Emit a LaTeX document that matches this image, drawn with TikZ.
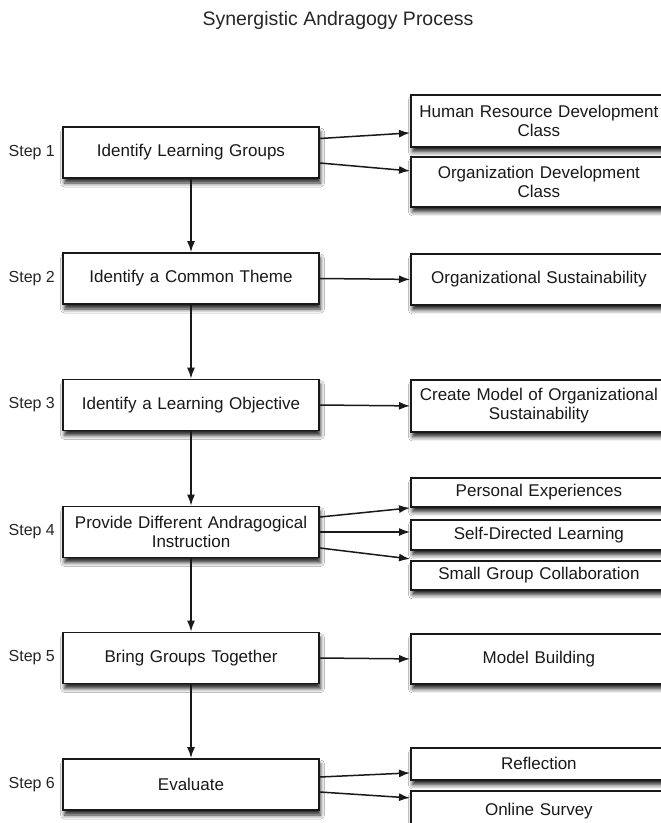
\documentclass[tikz,border=0pt]{standalone}
\usepackage{fontspec}
\setmainfont{Liberation Sans}
\usetikzlibrary{positioning, calc, arrows.meta, shadows.blur}
\tikzset{
  boxshadow/.style={blur shadow={shadow xshift=1.5pt, shadow yshift=-5pt, shadow blur radius=4pt, shadow opacity=85}},
  stepbox/.style={draw=black!90, line width=1.8pt, fill=white, boxshadow, minimum width=256pt, minimum height=51pt,
    inner sep=0pt, text width=248pt, align=center, font=\fontsize{17}{19}\selectfont, text=black!90},
  outbox/.style={stepbox, anchor=north west},
  steplabel/.style={anchor=east, inner sep=0pt, font=\fontsize{16}{18}\selectfont, text=black!85},
  flow/.style={line width=1.5pt, draw=black!90, -{Latex[length=11pt,width=8pt]}}
}
\begin{document}
\begin{tikzpicture}[x=1pt, y=-1pt]
    \useasboundingbox[fill=white] (0,0) rectangle (661,823);

    % --- Title ---
    \node[font=\fontsize{19.5}{22}\selectfont, text=black!85] (title) at (338,20) {Synergistic Andragogy Process};

    % --- Left column: the six steps ---
    \node[stepbox] (s1) at (191,152.5) {Identify Learning Groups};
    \node[stepbox] (s2) at (191,278.5) {Identify a Common Theme};
    \node[stepbox] (s3) at (191,405) {Identify a Learning Objective};
    \node[stepbox] (s4) at (191,532) {Provide Different Andragogical\\Instruction};
    \node[stepbox] (s5) at (191,658) {Bring Groups Together};
    \node[stepbox] (s6) at (191,784.5) {Evaluate};

    % step numbers, right aligned next to each box
    \foreach \i in {1,...,6}
      \node[steplabel] (l\i) at ($(s\i.west)+(-7,0)$) {Step \i};

    % --- Right column: outcomes of each step ---
    \node[outbox, minimum height=52pt] (hrd) at (410,94) {Human Resource Development\\Class};
    \node[outbox, minimum height=50pt] (odc) at (410,156) {Organization Development\\Class};
    \node[outbox] (sust) at (410,253) {Organizational Sustainability};
    \node[outbox, minimum height=52pt] (model) at (410,379) {Create Model of Organizational\\Sustainability};
    \node[outbox, minimum height=29pt] (pers) at (410,477) {Personal Experiences};
    \node[outbox, minimum height=30pt] (self) at (410,519) {Self-Directed Learning};
    \node[outbox, minimum height=29pt] (small) at (410,560) {Small Group Collaboration};
    \node[outbox, minimum height=50pt] (build) at (410,633) {Model Building};
    \node[outbox, minimum height=32pt] (refl) at (410,747) {Reflection};
    \node[outbox, minimum height=40pt] (surv) at (410,790) {Online Survey};

    % --- Vertical flow between steps ---
    \draw[flow] (s1.south) -- (s2.north);
    \draw[flow] (s2.south) -- (s3.north);
    \draw[flow] (s3.south) -- (s4.north);
    \draw[flow] (s4.south) -- (s5.north);
    \draw[flow] (s5.south) -- (s6.north);

    % --- Step to outcome arrows ---
    \draw[flow] ([yshift=14pt]s1.east) -- ([yshift=-12pt]hrd.west);
    \draw[flow] ([yshift=-10.5pt]s1.east) -- ([yshift=11pt]odc.west);
    \draw[flow] (s2.east) -- (sust.west);
    \draw[flow] (s3.east) -- (model.west);
    \draw[flow] ([yshift=15pt]s4.east) -- ([yshift=-15.5pt]pers.west);
    \draw[flow] (s4.east) -- (s4.east -| self.west);
    \draw[flow] ([yshift=-16pt]s4.east) -- ([yshift=16.5pt]small.west);
    \draw[flow] (s5.east) -- (build.west);
    \draw[flow] ([yshift=7.5pt]s6.east) -- ([yshift=-9pt]refl.west);
    \draw[flow] ([yshift=-7.5pt]s6.east) -- ([yshift=13pt]surv.west);

\end{tikzpicture}
\end{document}
